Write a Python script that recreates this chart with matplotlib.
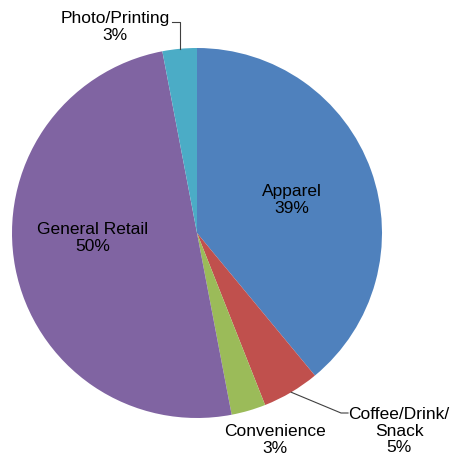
import numpy as np
import matplotlib.pyplot as plt

categories = ["Apparel", "Coffee/Drink/\nSnack", "Convenience", "General Retail", "Photo/Printing"]
shares = [39, 5, 3, 50, 3]
colors = ["#4F81BD", "#C0504D", "#9BBB59", "#8064A2", "#4BACC6"]

W, H = 454, 458
fig = plt.figure(figsize=(W / 100, H / 100), dpi=100)
ax = fig.add_axes([0, 0, 1, 1])

cx, cy, r = 197, H - 233, 185
wedges, _ = ax.pie(shares, colors=colors, startangle=90, counterclock=False,
                   center=(cx, cy), radius=r, wedgeprops=dict(linewidth=0),
                   frame=True)
ax.set_xlim(0, W)
ax.set_ylim(0, H)
ax.set_aspect("equal")
ax.axis("off")

font = dict(family="Liberation Sans", fontsize=12.5, color="black",
            ha="center", va="center", linespacing=1.1)

# label positions in pixel coords (x, y from top)
label_pos = {
    "Apparel": (292, 200),
    "Coffee/Drink/\nSnack": (399, 431),
    "Convenience": (275, 440),
    "General Retail": (93, 238),
    "Photo/Printing": (115, 27),
}

for w, cat, s in zip(wedges, categories, shares):
    px, py = label_pos[cat]
    ax.text(px, H - py, f"{cat}\n{s}%", **font)

# leader lines
def edge_point(w):
    a = np.deg2rad((w.theta1 + w.theta2) / 2)
    return cx + r * np.cos(a), cy + r * np.sin(a)

ex, ey = edge_point(wedges[1])
ax.plot([ex, 341, 348], [ey, H - 413, H - 413], color="#404040", lw=0.8)
ex, ey = edge_point(wedges[4])
ax.plot([ex, ex, 172], [ey, H - 22, H - 22], color="#404040", lw=0.8)

fig.savefig("out.png", dpi=100)
